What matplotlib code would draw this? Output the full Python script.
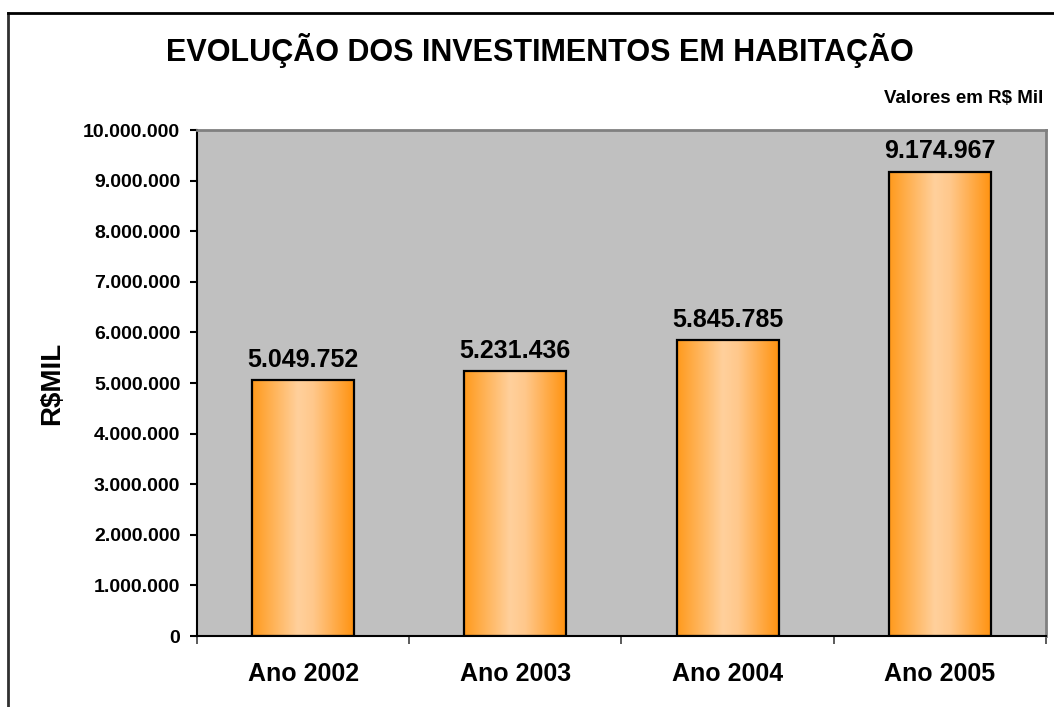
import matplotlib
matplotlib.use("Agg")
import matplotlib.pyplot as plt
import numpy as np
from matplotlib.colors import LinearSegmentedColormap
from matplotlib.lines import Line2D

anos = ["Ano 2002", "Ano 2003", "Ano 2004", "Ano 2005"]
valores = [5049752, 5231436, 5845785, 9174967]
rotulos = ["5.049.752", "5.231.436", "5.845.785", "9.174.967"]
yticks = [0, 1000000, 2000000, 3000000, 4000000, 5000000,
          6000000, 7000000, 8000000, 9000000, 10000000]
ytick_labels = ["0", "1.000.000", "2.000.000", "3.000.000", "4.000.000", "5.000.000",
                "6.000.000", "7.000.000", "8.000.000", "9.000.000", "10.000.000"]

plt.rcParams["font.family"] = ["Liberation Sans", "DejaVu Sans"]
plt.rcParams["font.weight"] = "bold"

fig = plt.figure(figsize=(10.54, 7.07), dpi=100)
ax = fig.add_axes([0.1869, 0.1004, 0.8055, 0.7157])
ax.set_facecolor("#C0C0C0")

# degrade laranja das barras
cmap = LinearSegmentedColormap.from_list(
    "laranja", [(0.0, "#FF9A1C"), (0.45, "#FFD09C"), (0.6, "#FFC88C"), (1.0, "#FF9310")])
grad = np.linspace(0, 1, 256).reshape(1, -1)

x = np.arange(len(anos))
barras = ax.bar(x, valores, width=0.48, facecolor="none", edgecolor="black", linewidth=1.6, zorder=3)
for b in barras:
    x0, w, h = b.get_x(), b.get_width(), b.get_height()
    im = ax.imshow(grad, extent=[x0, x0 + w, 0, h], aspect="auto", cmap=cmap, zorder=2)
    im.set_clip_path(b)

for xi, v, r in zip(x, valores, rotulos):
    ax.annotate(r, (xi, v), xytext=(0, 6), textcoords="offset points",
                ha="center", va="bottom", fontsize=18, fontweight="bold")

ax.set_xlim(-0.5, len(anos) - 0.5)
ax.set_ylim(0, 10000000)
ax.set_yticks(yticks)
ax.set_yticklabels(ytick_labels, fontsize=14, fontweight="bold")
ax.tick_params(axis="y", length=5, width=1.5, pad=7)

ax.set_xticks(x)
ax.set_xticklabels(anos, fontsize=18, fontweight="bold")
ax.set_xticks(np.arange(-0.5, len(anos)), minor=True)
ax.tick_params(axis="x", which="major", length=0, pad=19)
ax.tick_params(axis="x", which="minor", length=6, width=1.2, color="#404040")

ax.spines["left"].set_linewidth(1.5)
ax.spines["bottom"].set_linewidth(1.5)
ax.spines["top"].set_color("#808080")
ax.spines["right"].set_color("#808080")
ax.spines["top"].set_linewidth(2)
ax.spines["right"].set_linewidth(2)

ax.set_ylabel("R$MIL", fontsize=20, fontweight="bold", labelpad=13)

fig.text(0.512, 0.929, "EVOLUÇÃO DOS INVESTIMENTOS EM HABITAÇÃO",
         ha="center", va="center", fontsize=22, fontweight="bold")
fig.text(0.99, 0.861, "Valores em R$ Mil", ha="right", va="center", fontsize=13.5, fontweight="bold")

# moldura do grafico
fig.add_artist(Line2D([0.0076, 0.0076], [-0.05, 0.9816], transform=fig.transFigure,
                      color="#303030", linewidth=2))
fig.add_artist(Line2D([0.0076, 1.0], [0.9816, 0.9816], transform=fig.transFigure,
                      color="black", linewidth=2))

plt.savefig("out.png", dpi=100)
